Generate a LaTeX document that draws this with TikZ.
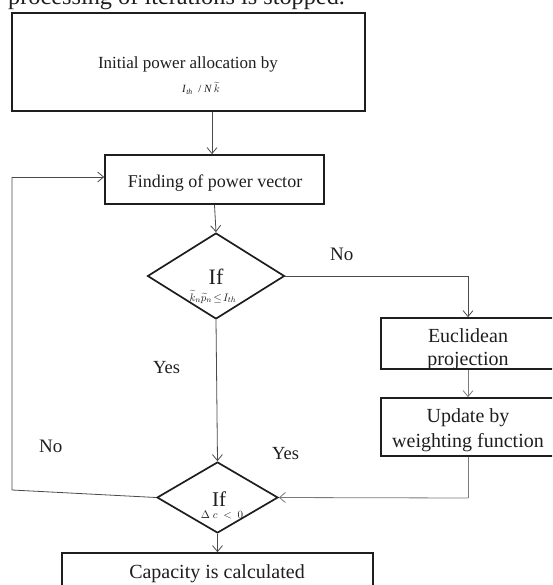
\documentclass[tikz,border=0pt]{standalone}
\usepackage{fontspec}
\setmainfont{Liberation Serif}
\usetikzlibrary{shapes.geometric,arrows.meta}
\definecolor{ink}{HTML}{1E1E1E}
\definecolor{conn}{HTML}{4A4A4A}
\definecolor{connl}{HTML}{7A7A7A}
\tikzset{
  box/.style={draw=ink, line width=1.7pt, rectangle, inner sep=0pt},
  dia/.style={draw=ink, line width=1.7pt, diamond, inner sep=0pt},
  conline/.style={draw=conn, line width=0.8pt},
  conarrow/.style={conline, -{Straight Barb[length=6pt,width=10pt,line width=0.8pt]}},
  txt/.style={text=ink, inner sep=0pt, anchor=base},
}
\newcommand{\fsz}[1]{\fontsize{#1}{#1}\selectfont}
\begin{document}
\begin{tikzpicture}[x=1pt,y=-1pt]
\useasboundingbox (0,0) rectangle (552,585);
\clip (0,0) rectangle (552,585);
% top cut-off text
\node[txt, anchor=base west] (toptext) at (8,5) {\fsz{24.3}processing of iterations is stopped.};
% boxes
\node[box, minimum width=353pt, minimum height=98pt] (b1) at (188.5,62) {};
\node[box, minimum width=219pt, minimum height=49pt] (b2) at (214.5,179.5) {};
\node[dia, minimum width=137pt, minimum height=86pt] (d1) at (216,276) {};
\node[box, minimum width=174pt, minimum height=51pt] (b3) at (468,343.5) {};
\node[box, minimum width=174pt, minimum height=58pt] (b4) at (468,427) {};
\node[dia, minimum width=121pt, minimum height=71pt] (d2) at (217.5,497.5) {};
\node[box, minimum width=311pt, minimum height=47pt] (b5) at (217.5,576.5) {};
% texts
\node[txt] (t1) at (188,69) {\fsz{17}Initial power allocation by};
\node[txt] (t1f) at (201,93) {\fsz{11}\textit{I}\textsubscript{\textit{th}}\ \ /\ \textit{N}\,$\widetilde{k}$};
\node[txt] (t2) at (215,187) {\fsz{18}Finding of power vector};
\node[txt] (t3) at (216,284) {\fsz{22}If};
\node[txt] (t3f) at (213,301) {\fsz{11}$\widetilde{k}_n\widetilde{p}_n\!\le\! I_{th}$};
\node[txt, anchor=base west] (no1) at (330,260) {\fsz{19}No};
\node[txt, anchor=base west] (yes1) at (153,373) {\fsz{18.5}Yes};
\node[txt, align=center] (t4) at (468,342) {\fsz{20}Euclidean};
\node[txt] (t4b) at (468,365) {\fsz{20}projection};
\node[txt] (t5) at (468,422) {\fsz{20}Update by};
\node[txt] (t5b) at (468,447) {\fsz{20}weighting function};
\node[txt, anchor=base west] (yes2) at (272,459) {\fsz{18.5}Yes};
\node[txt, anchor=base west] (no2) at (39,452) {\fsz{19}No};
\node[txt] (t6) at (219,506) {\fsz{21}If};
\node[txt] (t6f) at (222,518) {\fsz{11}$\Delta\ c\ <\ 0$};
\node[txt] (t7) at (217,578) {\fsz{20}Capacity is calculated};
% connectors
\coordinate (c1) at (468,276);
\coordinate (c2) at (468,498);
\coordinate (c3) at (12,490);
\coordinate (c4) at (12,177);
\draw[conarrow] (b1.south -| 212,0) -- (b2.north -| 212,0);
\draw[conarrow] (b2.south) -- (d1.north);
\draw[conline] (d1.east) -- (c1);
\draw[conarrow] (c1) -- (b3.north);
\draw[conarrow, draw=connl] (b3.south) -- (b4.north);
\draw[conline, draw=connl] (b4.south) -- (c2);
\draw[conarrow, draw=connl] (c2) -- (d2.east);
\draw[conarrow] (d1.south) -- (d2.north);
\draw[conline] (d2.west) -- (c3) -- (c4);
\draw[conarrow] (c4) -- (b2.west |- c4);
\draw[conarrow] (d2.south) -- (b5.north);
\end{tikzpicture}
\end{document}
